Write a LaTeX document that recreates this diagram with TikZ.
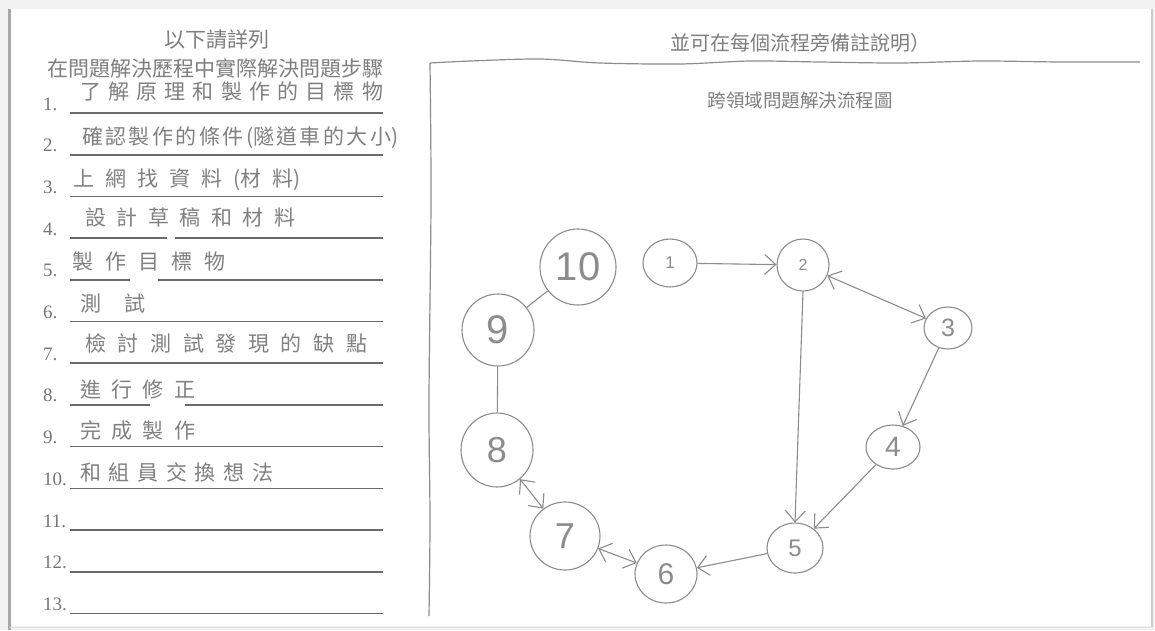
\documentclass[tikz,border=0pt]{standalone}
\usepackage{fontspec}
\setmainfont{Liberation Serif}
\newfontfamily\cjk{Noto Sans CJK TC}
\newfontfamily\dig{Liberation Sans}
\usetikzlibrary{arrows.meta,shapes.geometric}
\newcommand\gp{\hfill}
\definecolor{pagebg}{HTML}{F2F2F2}
\definecolor{edgegray}{HTML}{A8A8A8}
\definecolor{headgray}{HTML}{7E7E7E}
\definecolor{hwgray}{HTML}{808080}
\definecolor{lblgray}{HTML}{777777}
\definecolor{ulgray}{HTML}{6A6A6A}
\definecolor{cgray}{HTML}{8C8C8C}
\begin{document}
\begin{tikzpicture}[x=1pt,y=-1pt,
  hdr/.style={text=headgray, font=\cjk\fontsize{21}{21}\selectfont, inner sep=0pt},
  hw/.style={text=hwgray, font=\cjk\fontsize{21}{21}\selectfont, inner sep=0pt, anchor=west},
  lbl/.style={text=lblgray, font=\fontsize{19}{19}\selectfont, inner sep=0pt, anchor=base west},
  uline/.style={draw=ulgray, line width=1.6pt},
  frame/.style={draw=cgray, line width=1.2pt},
  circ/.style={ellipse, draw=cgray, line width=1.1pt, inner sep=0pt, text=cgray},
  arr/.style={draw=cgray, line width=1.1pt, -{Straight Barb[length=11pt,width=20pt]}},
  darr/.style={draw=cgray, line width=1.1pt, {Straight Barb[length=11pt,width=20pt]}-{Straight Barb[length=11pt,width=20pt]}},
  link/.style={draw=cgray, line width=1.1pt}]
\useasboundingbox (0,0) rectangle (1155,630);
% paper
\fill[pagebg] (0,0) rectangle (1155,630);
\fill[white] (10,9) rectangle (1151,626);
\draw[edgegray, line width=3pt] (9,9) -- (9,630);
\draw[black!20, line width=2pt] (1152,9) -- (1152,627);
\draw[black!12, line width=1pt] (10,627) -- (1151,627);
% left headers
\node[hdr] (t1) at (217,40) {以下請詳列};
\node[hdr] (t2) at (215,68) {在問題解決歷程中實際解決問題步驟};
% numbered lines
\foreach \i in {1,...,13} {
  \pgfmathsetmacro\u{113+(\i-1)*41.7}
  \node[lbl] (l\i) at (43,\u-3) {\i.};
}
\foreach \i in {1,2,3,6,7,9,10,11,12,13} {
  \pgfmathsetmacro\u{113+(\i-1)*41.7}
  \draw[uline] (70,\u) -- (383,\u);
}
\draw[uline] (70,238.1) -- (167,238.1) (175,238.1) -- (383,238.1);
\draw[uline] (70,279.8) -- (130,279.8) (158,279.8) -- (383,279.8);
\draw[uline] (70,404.9) -- (150,404.9) (185,404.9) -- (383,404.9);
% handwritten answers
\node[hw] (h1) at (80,91) {\makebox[303pt][s]{了\gp 解\gp 原\gp 理\gp 和\gp 製\gp 作\gp 的\gp 目\gp 標\gp 物}};
\node[hw] (h2) at (82,138) {\makebox[316pt][s]{確\gp 認\gp 製\gp 作\gp 的\gp 條\gp 件\gp (隧\gp 道\gp 車\gp 的\gp 大\gp 小)}};
\node[hw] (h3) at (73,180) {\makebox[227pt][s]{上\gp 網\gp 找\gp 資\gp 料\gp (材\gp 料)}};
\node[hw] (h4) at (85,217) {\makebox[210pt][s]{設\gp 計\gp 草\gp 稿\gp 和\gp 材\gp 料}};
\node[hw] (h5) at (72,262) {\makebox[153pt][s]{製\gp 作\gp 目\gp 標\gp 物}};
\node[hw] (h6) at (80,303) {\makebox[65pt][s]{測\gp 試}};
\node[hw] (h7) at (85,343) {\makebox[282pt][s]{檢\gp 討\gp 測\gp 試\gp 發\gp 現\gp 的\gp 缺\gp 點}};
\node[hw] (h8) at (80,390) {\makebox[115pt][s]{進\gp 行\gp 修\gp 正}};
\node[hw] (h9) at (80,430) {\makebox[115pt][s]{完\gp 成\gp 製\gp 作}};
\node[hw] (h10) at (80,472) {\makebox[193pt][s]{和\gp 組\gp 員\gp 交\gp 換\gp 想\gp 法}};
% right panel
\node[hdr, font=\cjk\fontsize{20}{20}\selectfont] (t3) at (800,43) {並可在每個流程旁備註說明）};
\draw[frame] plot[smooth] coordinates {(430,63) (470,61) (540,59) (600,63) (680,64) (750,61) (820,62) (900,63) (980,61) (1060,62) (1140,62)};
\draw[frame] plot[smooth] coordinates {(430,63) (431,200) (429,400) (430,520) (429,616)};
\node[hdr, font=\cjk\fontsize{18.5}{18.5}\selectfont] (t4) at (800,100) {跨領域問題解決流程圖};
% flow nodes
\node[circ, minimum width=76pt, minimum height=76pt, font=\dig\fontsize{40}{40}\selectfont] (n10) at (578,267) {10};
\node[circ, minimum width=54pt, minimum height=48pt, font=\dig\fontsize{17}{17}\selectfont] (n1) at (670,263) {1};
\node[circ, minimum width=52pt, minimum height=52pt, font=\dig\fontsize{16}{16}\selectfont] (n2) at (803,265) {2};
\node[circ, minimum width=48pt, minimum height=42pt, font=\dig\fontsize{25}{25}\selectfont] (n3) at (948,328) {3};
\node[circ, minimum width=72pt, minimum height=72pt, font=\dig\fontsize{40}{40}\selectfont] (n9) at (498,330) {9};
\node[circ, minimum width=54pt, minimum height=44pt, font=\dig\fontsize{28}{28}\selectfont] (n4) at (893,447) {4};
\node[circ, minimum width=72pt, minimum height=74pt, font=\dig\fontsize{36}{36}\selectfont] (n8) at (497,450) {8};
\node[circ, minimum width=70pt, minimum height=68pt, font=\dig\fontsize{36}{36}\selectfont] (n7) at (565,536) {7};
\node[circ, minimum width=62pt, minimum height=58pt, font=\dig\fontsize{30}{30}\selectfont] (n6) at (666,574) {6};
\node[circ, minimum width=56pt, minimum height=50pt, font=\dig\fontsize{24}{24}\selectfont] (n5) at (795,548) {5};
% connectors
\draw[link] (n9) -- (n10);
\draw[link] (n9) -- (n8);
\draw[arr] (n1) -- (n2);
\draw[darr] (n2) -- (n3);
\draw[arr] (n3) -- (n4);
\draw[arr] (n2.south) -- (n5.north);
\draw[arr] (n4) -- (n5);
\draw[arr] (n5) -- (n6);
\draw[darr] (n6) -- (n7);
\draw[darr] (n7) -- (n8);
\end{tikzpicture}
\end{document}
